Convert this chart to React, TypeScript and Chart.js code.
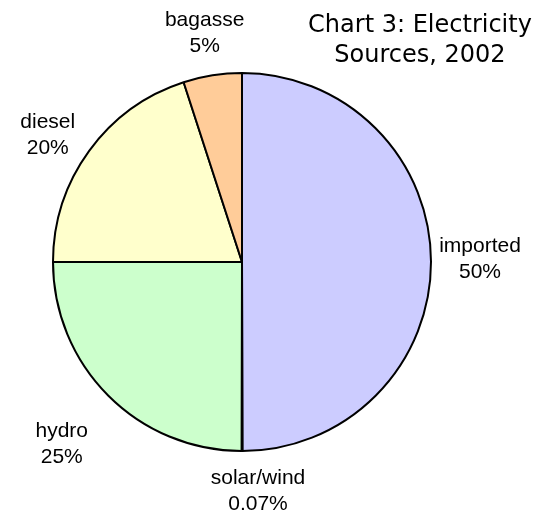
import React, { useEffect, useRef } from "react";
import { Chart, registerables } from "chart.js";

Chart.register(...registerables);

// ---- data ----
const categories = ["imported", "solar/wind", "hydro", "diesel", "bagasse"];
const shares = [50, 0.07, 25, 20, 5];
const sliceColors = ["#CCCCFF", "#99CCFF", "#CCFFCC", "#FFFFCC", "#FFCC99"];
const titleLines = ["Chart 3: Electricity", "Sources, 2002"];

// ---- label layout tweaks (pixels, relative to radial anchor) ----
const labelNudge = [
  [-1, -3],
  [16, -10],
  [-11, 13],
  [-1, 14],
  [0, 7],
];

const outsideLabels = {
  id: "outsideLabels",
  afterDatasetsDraw(chart: any) {
    const ctx = chart.ctx;
    const meta = chart.getDatasetMeta(0);
    ctx.save();
    ctx.fillStyle = "#000";
    ctx.textAlign = "center";
    ctx.textBaseline = "middle";
    ctx.font = "21px 'Liberation Sans', Arial, sans-serif";
    meta.data.forEach((arc: any, i: number) => {
      const p = arc.getProps(["x", "y", "startAngle", "endAngle", "outerRadius"], true);
      const mid = (p.startAngle + p.endAngle) / 2;
      const d = p.outerRadius + 50;
      const cx = p.x + Math.cos(mid) * d + labelNudge[i][0];
      const cy = p.y + Math.sin(mid) * d + labelNudge[i][1];
      ctx.fillText(categories[i], cx, cy - 13);
      ctx.fillText(shares[i] + "%", cx, cy + 13);
    });
    ctx.font = "24px 'DejaVu Sans', sans-serif";
    ctx.textBaseline = "alphabetic";
    ctx.fillText(titleLines[0], 420, 32);
    ctx.fillText(titleLines[1], 420, 62);
    ctx.restore();
  },
};

export default function App() {
  const ref = useRef<HTMLCanvasElement | null>(null);
  useEffect(() => {
    if (!ref.current) return;
    const chart = new Chart(ref.current, {
      type: "pie",
      data: {
        labels: categories,
        datasets: [
          {
            data: shares,
            backgroundColor: sliceColors,
            borderColor: "#000000",
            borderWidth: 2,
            hoverOffset: 0,
          },
        ],
      },
      options: {
        responsive: false,
        animation: false,
        layout: { padding: { left: 52, top: 72, right: 111, bottom: 68 } },
        plugins: {
          legend: { display: false },
          tooltip: { enabled: false },
          title: { display: false },
        },
      },
      plugins: [outsideLabels],
    });
    return () => chart.destroy();
  }, []);
  return (
    <div style={{ position: "fixed", left: 0, top: 0, width: 543, height: 520, background: "#fff" }}>
      <canvas ref={ref} width={543} height={520} style={{ display: "block" }} />
    </div>
  );
}
